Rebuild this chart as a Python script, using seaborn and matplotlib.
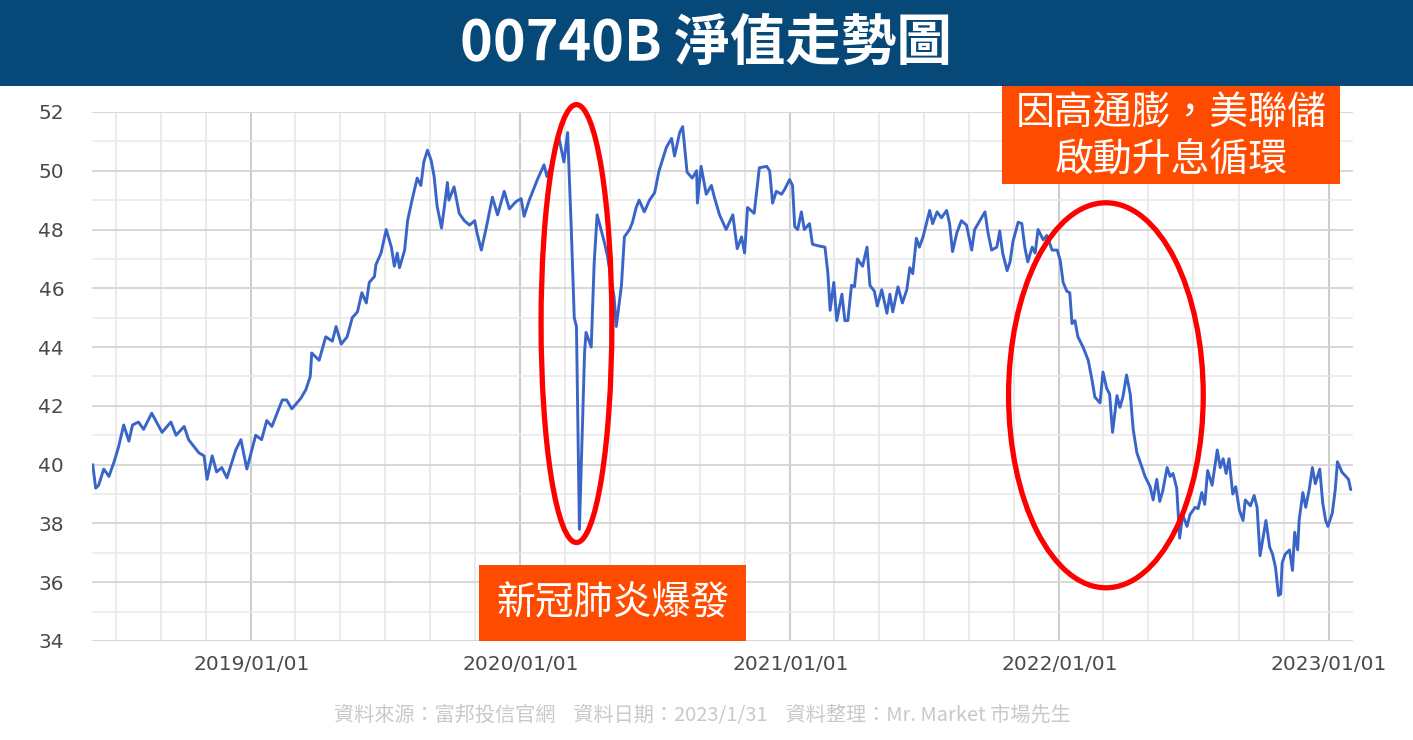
import pandas as pd
import matplotlib.pyplot as plt
import matplotlib.dates as mdates
from matplotlib.patches import Ellipse, Rectangle
from matplotlib.ticker import MultipleLocator
import seaborn as sns

# 00740B NAV, one list pair per year
dates_2018 = ["2018-05-31", "2018-06-04", "2018-06-08", "2018-06-15", "2018-06-22", "2018-06-29",
              "2018-07-05", "2018-07-12", "2018-07-19", "2018-07-24", "2018-08-01", "2018-08-08",
              "2018-08-19", "2018-09-02", "2018-09-14", "2018-09-21", "2018-10-02", "2018-10-08",
              "2018-10-22", "2018-10-29", "2018-11-02", "2018-11-09", "2018-11-15", "2018-11-22",
              "2018-11-29", "2018-12-11", "2018-12-18", "2018-12-26"]
nav_2018 = [40.0, 39.2, 39.3, 39.85, 39.6, 40.1,
            40.6, 41.35, 40.8, 41.35, 41.45, 41.2,
            41.75, 41.1, 41.45, 41.0, 41.3, 40.85,
            40.4, 40.3, 39.5, 40.3, 39.75, 39.9,
            39.55, 40.5, 40.85, 39.85]

dates_2019 = ["2019-01-07", "2019-01-15", "2019-01-22", "2019-01-29", "2019-02-12", "2019-02-18",
              "2019-02-25", "2019-03-09", "2019-03-16", "2019-03-22", "2019-03-24", "2019-04-03",
              "2019-04-12", "2019-04-21", "2019-04-26", "2019-05-03", "2019-05-11", "2019-05-18",
              "2019-05-25", "2019-05-31", "2019-06-06", "2019-06-10", "2019-06-17", "2019-06-19",
              "2019-06-26", "2019-07-03", "2019-07-10", "2019-07-14", "2019-07-18", "2019-07-21",
              "2019-07-28", "2019-08-01", "2019-08-07", "2019-08-14", "2019-08-19", "2019-08-23",
              "2019-08-28", "2019-09-02", "2019-09-06", "2019-09-10", "2019-09-16", "2019-09-20",
              "2019-09-24", "2019-09-26", "2019-10-03", "2019-10-10", "2019-10-17", "2019-10-24",
              "2019-10-31", "2019-11-03", "2019-11-09", "2019-11-16", "2019-11-24", "2019-12-01",
              "2019-12-10", "2019-12-17", "2019-12-26"]
nav_2019 = [41.0, 40.85, 41.5, 41.3, 42.2, 42.2,
            41.9, 42.25, 42.55, 43.0, 43.8, 43.55,
            44.35, 44.2, 44.7, 44.1, 44.35, 45.0,
            45.2, 45.85, 45.5, 46.2, 46.4, 46.8,
            47.2, 48.0, 47.4, 46.75, 47.2, 46.7,
            47.3, 48.3, 49.0, 49.75, 49.5, 50.3,
            50.7, 50.35, 49.8, 48.8, 48.05, 48.8,
            49.6, 49.0, 49.45, 48.55, 48.3, 48.15,
            48.3, 47.9, 47.3, 48.1, 49.1, 48.5,
            49.3, 48.7, 48.95]

dates_2020 = ["2020-01-02", "2020-01-06", "2020-01-13", "2020-01-24", "2020-02-02", "2020-02-06",
              "2020-02-13", "2020-02-22", "2020-02-29", "2020-03-05", "2020-03-10", "2020-03-14",
              "2020-03-17", "2020-03-21", "2020-03-28", "2020-03-30", "2020-04-06", "2020-04-10",
              "2020-04-14", "2020-04-24", "2020-04-28", "2020-05-07", "2020-05-10", "2020-05-17",
              "2020-05-21", "2020-05-28", "2020-06-01", "2020-06-06", "2020-06-10", "2020-06-17",
              "2020-06-24", "2020-07-01", "2020-07-07", "2020-07-17", "2020-07-24", "2020-07-28",
              "2020-08-04", "2020-08-08", "2020-08-14", "2020-08-21", "2020-08-27", "2020-08-28",
              "2020-09-02", "2020-09-09", "2020-09-16", "2020-09-20", "2020-09-27", "2020-10-06",
              "2020-10-15", "2020-10-21", "2020-10-27", "2020-10-31", "2020-11-04", "2020-11-13",
              "2020-11-20", "2020-11-30", "2020-12-04", "2020-12-08", "2020-12-13", "2020-12-20",
              "2020-12-24", "2020-12-31"]
nav_2020 = [49.05, 48.45, 49.0, 49.7, 50.2, 49.8,
            50.25, 51.15, 50.3, 51.3, 48.0, 45.0,
            44.7, 37.8, 43.8, 44.5, 44.0, 46.85,
            48.5, 47.55, 47.1, 45.7, 44.7, 46.1,
            47.75, 48.0, 48.25, 48.75, 49.0, 48.6,
            49.0, 49.25, 50.0, 50.8, 51.1, 50.5,
            51.3, 51.5, 49.95, 49.75, 50.0, 48.9,
            50.15, 49.2, 49.5, 49.1, 48.5, 48.0,
            48.5, 47.35, 47.75, 47.2, 48.75, 48.55,
            50.1, 50.15, 50.0, 48.9, 49.3, 49.2,
            49.35, 49.7]

dates_2021 = ["2021-01-04", "2021-01-07", "2021-01-11", "2021-01-16", "2021-01-20", "2021-01-27",
              "2021-01-31", "2021-02-07", "2021-02-17", "2021-02-21", "2021-02-24", "2021-03-01",
              "2021-03-05", "2021-03-12", "2021-03-16", "2021-03-20", "2021-03-25", "2021-03-29",
              "2021-04-02", "2021-04-09", "2021-04-15", "2021-04-19", "2021-04-25", "2021-04-29",
              "2021-05-05", "2021-05-12", "2021-05-16", "2021-05-20", "2021-05-27", "2021-06-02",
              "2021-06-08", "2021-06-12", "2021-06-16", "2021-06-21", "2021-06-25", "2021-06-30",
              "2021-07-05", "2021-07-09", "2021-07-13", "2021-07-19", "2021-07-25", "2021-08-01",
              "2021-08-05", "2021-08-09", "2021-08-15", "2021-08-21", "2021-08-28", "2021-09-04",
              "2021-09-08", "2021-09-15", "2021-09-22", "2021-09-26", "2021-10-01", "2021-10-08",
              "2021-10-12", "2021-10-16", "2021-10-22", "2021-10-26", "2021-10-30", "2021-11-06",
              "2021-11-11", "2021-11-15", "2021-11-19", "2021-11-25", "2021-11-29", "2021-12-03",
              "2021-12-10", "2021-12-15", "2021-12-22", "2021-12-29"]
nav_2021 = [49.5, 48.1, 48.0, 48.6, 48.0, 48.2,
            47.5, 47.45, 47.4, 46.5, 45.25, 46.2,
            44.9, 45.8, 44.9, 44.9, 46.1, 46.05,
            47.0, 46.75, 47.4, 46.1, 45.9, 45.4,
            45.95, 45.15, 45.8, 45.2, 46.05, 45.5,
            45.95, 46.7, 46.5, 47.7, 47.4, 47.75,
            48.25, 48.65, 48.2, 48.6, 48.4, 48.65,
            48.2, 47.25, 47.9, 48.3, 48.15, 47.3,
            48.0, 48.3, 48.6, 47.9, 47.3, 47.4,
            47.95, 47.2, 46.6, 46.9, 47.6, 48.25,
            48.2, 47.4, 46.9, 47.4, 47.2, 48.0,
            47.65, 47.8, 47.3, 47.3]

dates_2022 = ["2022-01-02", "2022-01-06", "2022-01-11", "2022-01-15", "2022-01-18", "2022-01-22",
              "2022-01-26", "2022-02-02", "2022-02-09", "2022-02-14", "2022-02-18", "2022-02-25",
              "2022-03-01", "2022-03-06", "2022-03-10", "2022-03-14", "2022-03-20", "2022-03-24",
              "2022-03-28", "2022-04-02", "2022-04-07", "2022-04-11", "2022-04-16", "2022-04-23",
              "2022-04-27", "2022-05-04", "2022-05-08", "2022-05-13", "2022-05-17", "2022-05-21",
              "2022-05-27", "2022-05-31", "2022-06-04", "2022-06-09", "2022-06-13", "2022-06-17",
              "2022-06-23", "2022-06-27", "2022-07-04", "2022-07-08", "2022-07-13", "2022-07-17",
              "2022-07-21", "2022-07-27", "2022-08-03", "2022-08-07", "2022-08-11", "2022-08-15",
              "2022-08-19", "2022-08-24", "2022-08-28", "2022-09-02", "2022-09-07", "2022-09-10",
              "2022-09-17", "2022-09-22", "2022-09-26", "2022-09-30", "2022-10-06", "2022-10-08",
              "2022-10-13", "2022-10-17", "2022-10-21", "2022-10-25", "2022-10-28", "2022-10-30",
              "2022-11-03", "2022-11-09", "2022-11-13", "2022-11-16", "2022-11-20", "2022-11-22",
              "2022-11-27", "2022-12-01", "2022-12-06", "2022-12-10", "2022-12-14", "2022-12-20",
              "2022-12-24", "2022-12-28", "2022-12-31"]
nav_2022 = [46.95, 46.2, 45.9, 45.85, 44.8, 44.9,
            44.35, 44.0, 43.55, 42.9, 42.3, 42.1,
            43.15, 42.6, 42.4, 41.1, 42.35, 41.95,
            42.3, 43.05, 42.4, 41.2, 40.4, 39.9,
            39.6, 39.25, 38.8, 39.5, 38.75, 39.1,
            39.9, 39.6, 39.7, 39.2, 37.5, 38.3,
            37.9, 38.3, 38.55, 38.5, 39.05, 38.65,
            39.8, 39.3, 40.5, 39.9, 40.2, 39.7,
            40.2, 39.0, 39.25, 38.45, 38.1, 38.8,
            38.6, 38.95, 38.55, 36.9, 37.8, 38.1,
            37.2, 36.95, 36.5, 35.55, 35.6, 36.65,
            36.95, 37.1, 36.4, 37.7, 37.1, 38.1,
            39.05, 38.55, 39.2, 39.9, 39.35, 39.85,
            38.7, 38.1, 37.9]

dates_2023 = ["2023-01-06", "2023-01-10", "2023-01-13", "2023-01-19", "2023-01-28", "2023-01-31"]
nav_2023 = [38.35, 39.15, 40.1, 39.75, 39.5, 39.15]

title = "00740B 淨值走勢圖"
covid_label = "新冠肺炎爆發"
fed_label = "因高通膨，美聯儲\n啟動升息循環"
footer = "資料來源：富邦投信官網    資料日期：2023/1/31    資料整理：Mr. Market 市場先生"

df = pd.DataFrame({
    "date": pd.to_datetime(dates_2018 + dates_2019 + dates_2020 + dates_2021 + dates_2022 + dates_2023),
    "nav": nav_2018 + nav_2019 + nav_2020 + nav_2021 + nav_2022 + nav_2023,
})

sns.set_theme(style="white")
plt.rcParams["font.family"] = ["DejaVu Sans", "Noto Sans CJK TC"]
cjk = ["Noto Sans CJK TC", "DejaVu Sans"]

fig = plt.figure(figsize=(14.13, 7.40), dpi=100)
ax = fig.add_axes([0.0651, 0.1338, 0.8924, 0.7149])

sns.lineplot(data=df, x="date", y="nav", color="#3a65c8", linewidth=2.1, ax=ax)

# axes, ticks, grid
ax.set_xlim(pd.Timestamp("2018-05-30"), pd.Timestamp("2023-02-03"))
ax.set_ylim(34, 52)
ax.set_yticks(range(34, 53, 2))
ax.yaxis.set_minor_locator(MultipleLocator(1))
ax.xaxis.set_major_locator(mdates.YearLocator())
ax.xaxis.set_minor_locator(mdates.MonthLocator(bymonth=[1, 3, 5, 7, 9, 11]))
ax.xaxis.set_major_formatter(mdates.DateFormatter("%Y/%m/%d"))
ax.set_axisbelow(True)
ax.xaxis.grid(True, which="major", color="#cdcdcd", linewidth=1.5)
ax.xaxis.grid(True, which="minor", color="#e8e8e8", linewidth=1.2)
ax.yaxis.grid(True, which="major", color="#d4d4d4", linewidth=1.3)
ax.yaxis.grid(True, which="minor", color="#e9e9e9", linewidth=1.1)
ax.tick_params(axis="both", which="both", length=0, labelsize=14.5, labelcolor="#4a4a4a")
ax.tick_params(axis="y", pad=20)
ax.tick_params(axis="x", pad=10)
ax.set_xlabel("")
ax.set_ylabel("")
for s in ax.spines.values():
    s.set_visible(False)

# red ellipses around the two events
ax.add_patch(Ellipse((mdates.date2num(pd.Timestamp("2020-03-17")), 44.8), width=96, height=14.9,
                     fill=False, edgecolor="#ff0000", linewidth=3.8, clip_on=False, zorder=5))
ax.add_patch(Ellipse((mdates.date2num(pd.Timestamp("2022-03-05")), 42.36), width=264, height=13.1,
                     fill=False, edgecolor="#ff0000", linewidth=3.8, clip_on=False, zorder=5))

# title bar
fig.patches.append(Rectangle((0, 1 - 86 / 740), 1, 86 / 740, transform=fig.transFigure,
                             facecolor="#064877", edgecolor="none", zorder=0))
fig.text(0.4993, 1 - 44 / 740, title, family=cjk, fontsize=40, fontweight="bold",
         color="white", ha="center", va="center")

# orange label boxes
fig.patches.append(Rectangle((479 / 1413, 1 - 641 / 740), 267 / 1413, 76 / 740,
                             transform=fig.transFigure, facecolor="#ff4b00", edgecolor="none", zorder=3))
fig.text(612.5 / 1413, 1 - 603 / 740, covid_label, family=cjk, fontsize=28, color="white",
         ha="center", va="center", zorder=4)
fig.patches.append(Rectangle((1002 / 1413, 1 - 184 / 740), 338 / 1413, 98 / 740,
                             transform=fig.transFigure, facecolor="#ff4b00", edgecolor="none", zorder=3))
fig.text(1171 / 1413, 1 - 137 / 740, fed_label, family=cjk, fontsize=28, color="white",
         ha="center", va="center", linespacing=1.2, zorder=4)

# source line
fig.text(0.497, 1 - 715 / 740, footer, family=cjk, fontsize=14.5, color="#c9c9c9",
         ha="center", va="center")

fig.savefig("out.png", dpi=100)
plt.close(fig)
